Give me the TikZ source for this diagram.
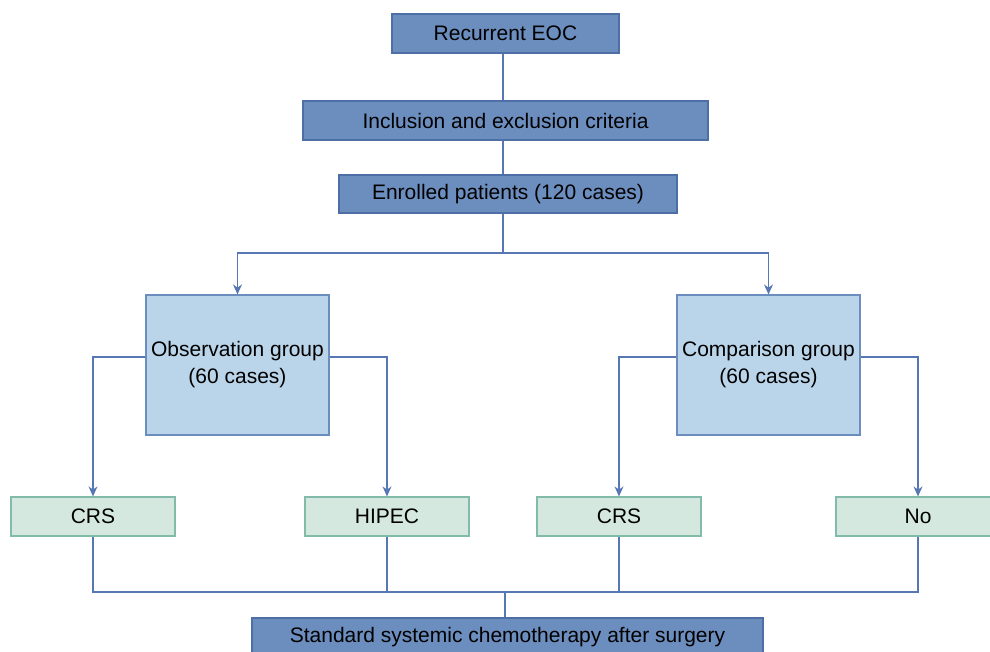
\documentclass[tikz,border=0pt]{standalone}
\usepackage{fontspec}
\setmainfont{Liberation Sans}
\usetikzlibrary{arrows.meta}
\definecolor{darkfill}{HTML}{6C8EBF}
\definecolor{darkline}{HTML}{4E6FA6}
\definecolor{lightfill}{HTML}{BAD5EA}
\definecolor{lightline}{HTML}{6C8EBF}
\definecolor{greenfill}{HTML}{D5E8E0}
\definecolor{greenline}{HTML}{82BBA9}
\definecolor{conn}{HTML}{5677B3}
\tikzset{
  base/.style={inner sep=0pt, align=center, font=\fontsize{21}{27}\selectfont, line width=1.2pt},
  darkbox/.style={base, draw=darkline, fill=darkfill, minimum height=39pt},
  groupbox/.style={base, draw=lightline, fill=lightfill, minimum width=183pt, minimum height=140pt},
  leafbox/.style={base, draw=greenline, fill=greenfill, minimum width=164pt, minimum height=39pt},
  conline/.style={draw=conn, line width=1.2pt},
  arr/.style={conline, -{Stealth[length=10pt,width=9pt]}},
}
\begin{document}
\begin{tikzpicture}[x=1pt,y=-1pt]
\useasboundingbox (0,0) rectangle (990,651);
\clip (0,0) rectangle (990,651);
\node[darkbox, minimum width=227pt] (eoc) at (505.5,33.5) {Recurrent EOC};
\node[darkbox, minimum width=405pt] (incl) at (505.5,120.5) {Inclusion and exclusion criteria};
\node[darkbox, minimum width=338pt, minimum height=38pt] (enr) at (508,194) {Enrolled patients (120 cases)};
\node[groupbox] (obs) at (237.5,365) {Observation group\\(60 cases)};
\node[groupbox] (cmp) at (768.5,365) {Comparison group\\(60 cases)};
\node[leafbox] (crsa) at (93,516.5) {CRS};
\node[leafbox] (hipec) at (387,516.5) {HIPEC};
\node[leafbox] (crsb) at (619,516.5) {CRS};
\node[leafbox] (no) at (918,516.5) {No};
\node[darkbox, minimum width=511pt] (std) at (507.5,637.5) {Standard systemic chemotherapy after surgery};
\coordinate (split) at (503,253);
\coordinate (join) at (505,592);
% top connectors
\draw[conline] (split |- eoc.south) -- (split |- incl.north);
\draw[conline] (split |- incl.south) -- (split |- enr.north);
\draw[conline] (split |- enr.south) -- (split);
\draw[arr] (split) -| (obs.north);
\draw[arr] (split) -| (cmp.north);
% group to leaves
\draw[arr] ([yshift=8pt]obs.west) -| (crsa.north);
\draw[arr] ([yshift=8pt]obs.east) -| (hipec.north);
\draw[arr] ([yshift=8pt]cmp.west) -| (crsb.north);
\draw[arr] ([yshift=8pt]cmp.east) -| (no.north);
% leaves to final
\draw[conline] (crsa.south) |- (join);
\draw[conline] (no.south) |- (join);
\draw[conline] (hipec.south) -- (hipec.south |- join);
\draw[conline] (crsb.south) -- (crsb.south |- join);
\draw[conline] (join) -- (join |- std.north);
\end{tikzpicture}
\end{document}
